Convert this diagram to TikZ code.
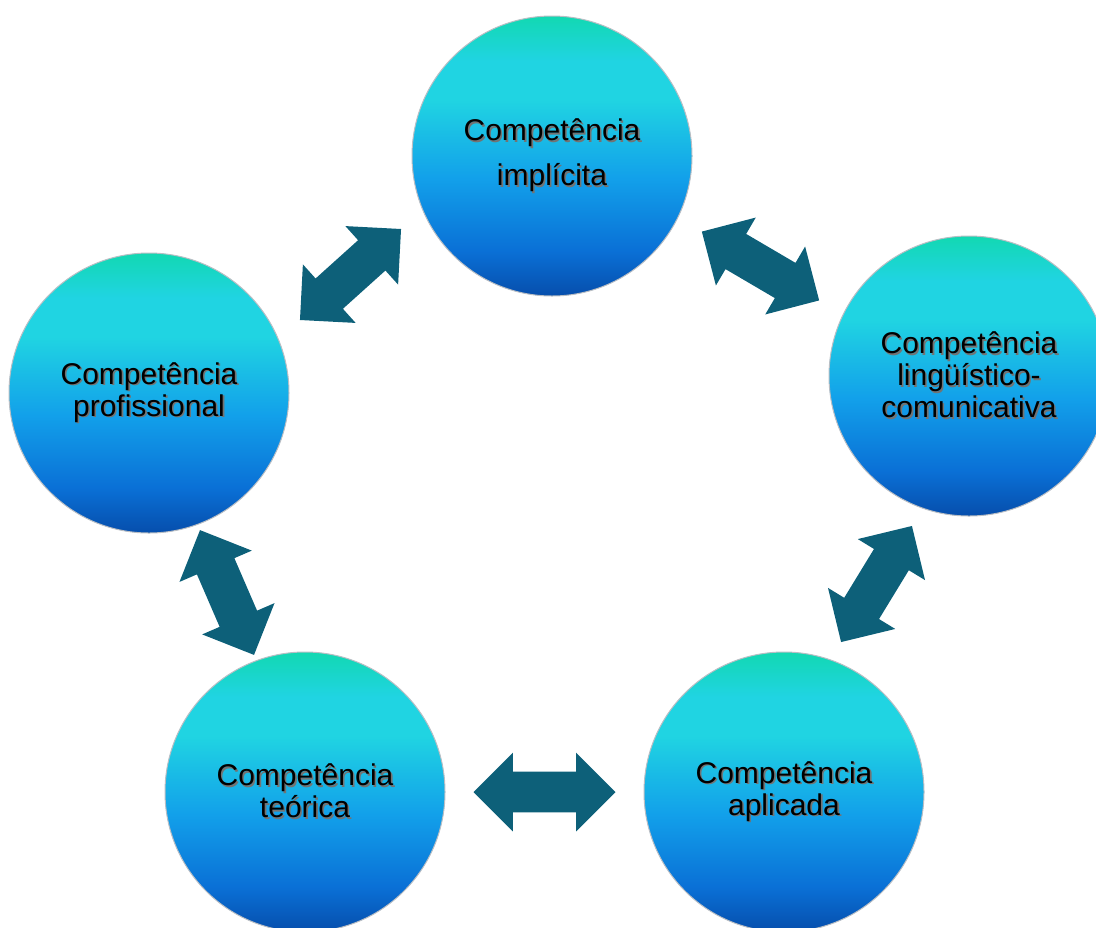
\documentclass[tikz,border=0pt]{standalone}
\usepackage{fontspec}
\setmainfont{Liberation Sans}
\usetikzlibrary{shapes.arrows,calc}

\definecolor{arrowteal}{RGB}{13,96,121}
\definecolor{discedge}{RGB}{185,190,196}
\definecolor{discA}{RGB}{6,78,172}
\definecolor{discB}{RGB}{10,112,214}
\definecolor{discC}{RGB}{18,160,234}
\definecolor{discD}{RGB}{32,212,226}
\definecolor{discE}{RGB}{18,216,178}

% blue at the bottom, teal-green at the top
\pgfdeclareverticalshading{discshade}{100bp}{
  color(0bp)=(discA); color(25bp)=(discA); color(33bp)=(discB);
  color(46bp)=(discC); color(60bp)=(discD); color(67bp)=(discD);
  color(75bp)=(discE); color(100bp)=(discE)}

% text with a soft drop shadow
\newcommand{\txtshadow}[1]{\makebox[0pt][l]{\raisebox{-0.8pt}{\hspace{0.8pt}\textcolor{black!55}{#1}}}#1}

\begin{document}
\begin{tikzpicture}[
                    x=0.5pt, y=-0.5pt,
                    disc/.style={
                        circle,
                        draw=discedge,
                        line width=0.5pt,
                        shading=discshade,
                        minimum size=140pt,
                        inner sep=0pt,
                        align=center,
                        font=\fontsize{15}{16}\selectfont
                    },
                    twoway/.style={
                        double arrow,
                        fill=arrowteal,
                        minimum height=68pt,
                        double arrow head extend=9.5pt,
                        inner xsep=0pt,
                        inner ysep=10pt
                    }
                ]
                    \useasboundingbox (0,0) rectangle (1096,927);

                    \node[disc, font=\fontsize{15}{22.5}\selectfont] (impl) at (552,156)
                        {\txtshadow{Competência}\\\txtshadow{implícita}};
                    \node[disc] (prof) at (149,393)
                        {\txtshadow{Competência}\\\txtshadow{profissional}};
                    \node[disc] (ling) at (969,376)
                        {\txtshadow{Competência}\\\txtshadow{lingüístico-}\\\txtshadow{comunicativa}};
                    \node[disc] (teor) at (305,792)
                        {\txtshadow{Competência}\\\txtshadow{teórica}};
                    \node[disc] (apli) at (784,792)
                        {\txtshadow{Competência}\\\txtshadow{aplicada}};

                    % Arrows
                    \node[twoway, rotate=42] (prof-impl) at ($(prof)!0.5!(impl)$) {};
                    \node[twoway, rotate=-30.4] (impl-ling) at ($(impl)!0.5!(ling)$) {};
                    \node[twoway, rotate=58.6] (ling-apli) at ($(ling)!0.5!(apli)$) {};
                    \node[twoway, minimum height=71pt] (apli-teor) at ($(apli)!0.5!(teor)$) {};
                    \node[twoway, rotate=-66.6] (teor-prof) at ($(teor)!0.5!(prof)$) {};
                \end{tikzpicture}
\end{document}
